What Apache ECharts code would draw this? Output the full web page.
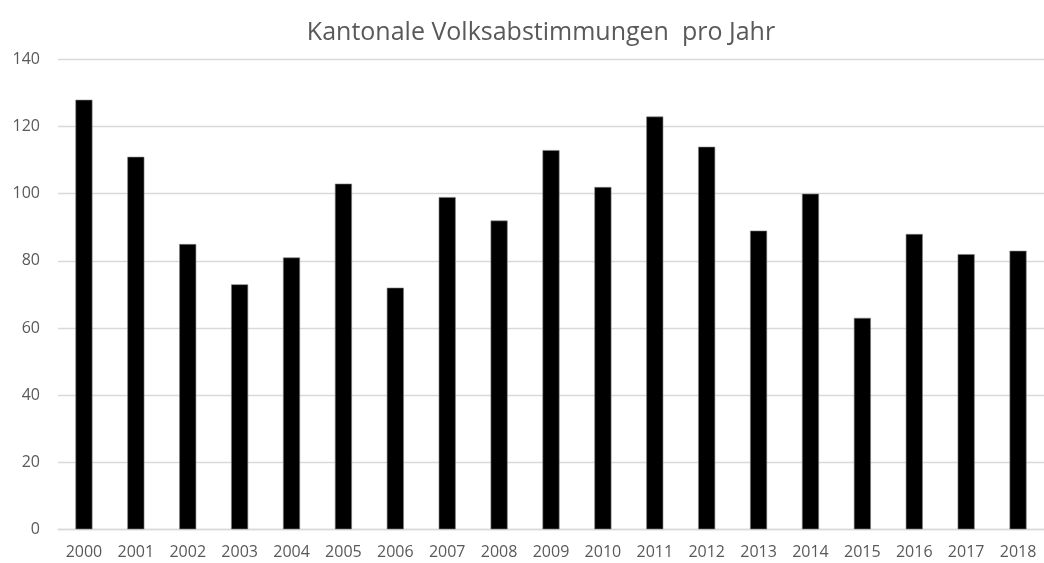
<!DOCTYPE html>
<html>
<head>
<meta charset="utf-8">
<script src="https://cdn.jsdelivr.net/npm/echarts@6/dist/echarts.min.js"></script>
<style>
html,body{margin:0;padding:0;background:#fff;}
#chart{width:1044px;height:563px;}
</style>
</head>
<body>
<div id="chart"></div>
<script>
const years = ['2000','2001','2002','2003','2004','2005','2006','2007','2008','2009','2010','2011','2012','2013','2014','2015','2016','2017','2018'];
const votes = [128,111,85,73,81,103,72,99,92,113,102,123,114,89,100,63,88,82,83];
const titleText = 'Kantonale Volksabstimmungen  pro Jahr';
const yMin = 0, yMax = 140, yStep = 20;

const chart = echarts.init(document.getElementById('chart'), null, {renderer:'canvas'});
chart.setOption({
  animation:false,
  backgroundColor:'#ffffff',
  title:{
    text:titleText,
    left:536, top:15, textAlign:'center',
    textStyle:{fontFamily:'Open Sans', fontWeight:'normal', fontSize:25, color:'#595959'}
  },
  grid:{left:58, width:993, top:59.5, height:469.8, containLabel:false},
  xAxis:{
    type:'category', data:years,
    axisLine:{lineStyle:{color:'#d9d9d9', width:1.3}},
    axisTick:{show:false},
    axisLabel:{fontFamily:'Open Sans', fontSize:16, color:'#595959', margin:15}
  },
  yAxis:{
    type:'value', min:yMin, max:yMax, interval:yStep,
    axisLine:{show:false}, axisTick:{show:false},
    splitLine:{lineStyle:{color:'#d9d9d9', width:1.3}},
    axisLabel:{fontFamily:'Open Sans', fontSize:16, color:'#595959', margin:18}
  },
  series:[{
    type:'bar', data:votes, barWidth:17,
    itemStyle:{color:'#000000', borderColor:'#7f7f7f', borderWidth:0.6}
  }]
});
</script>
</body>
</html>
